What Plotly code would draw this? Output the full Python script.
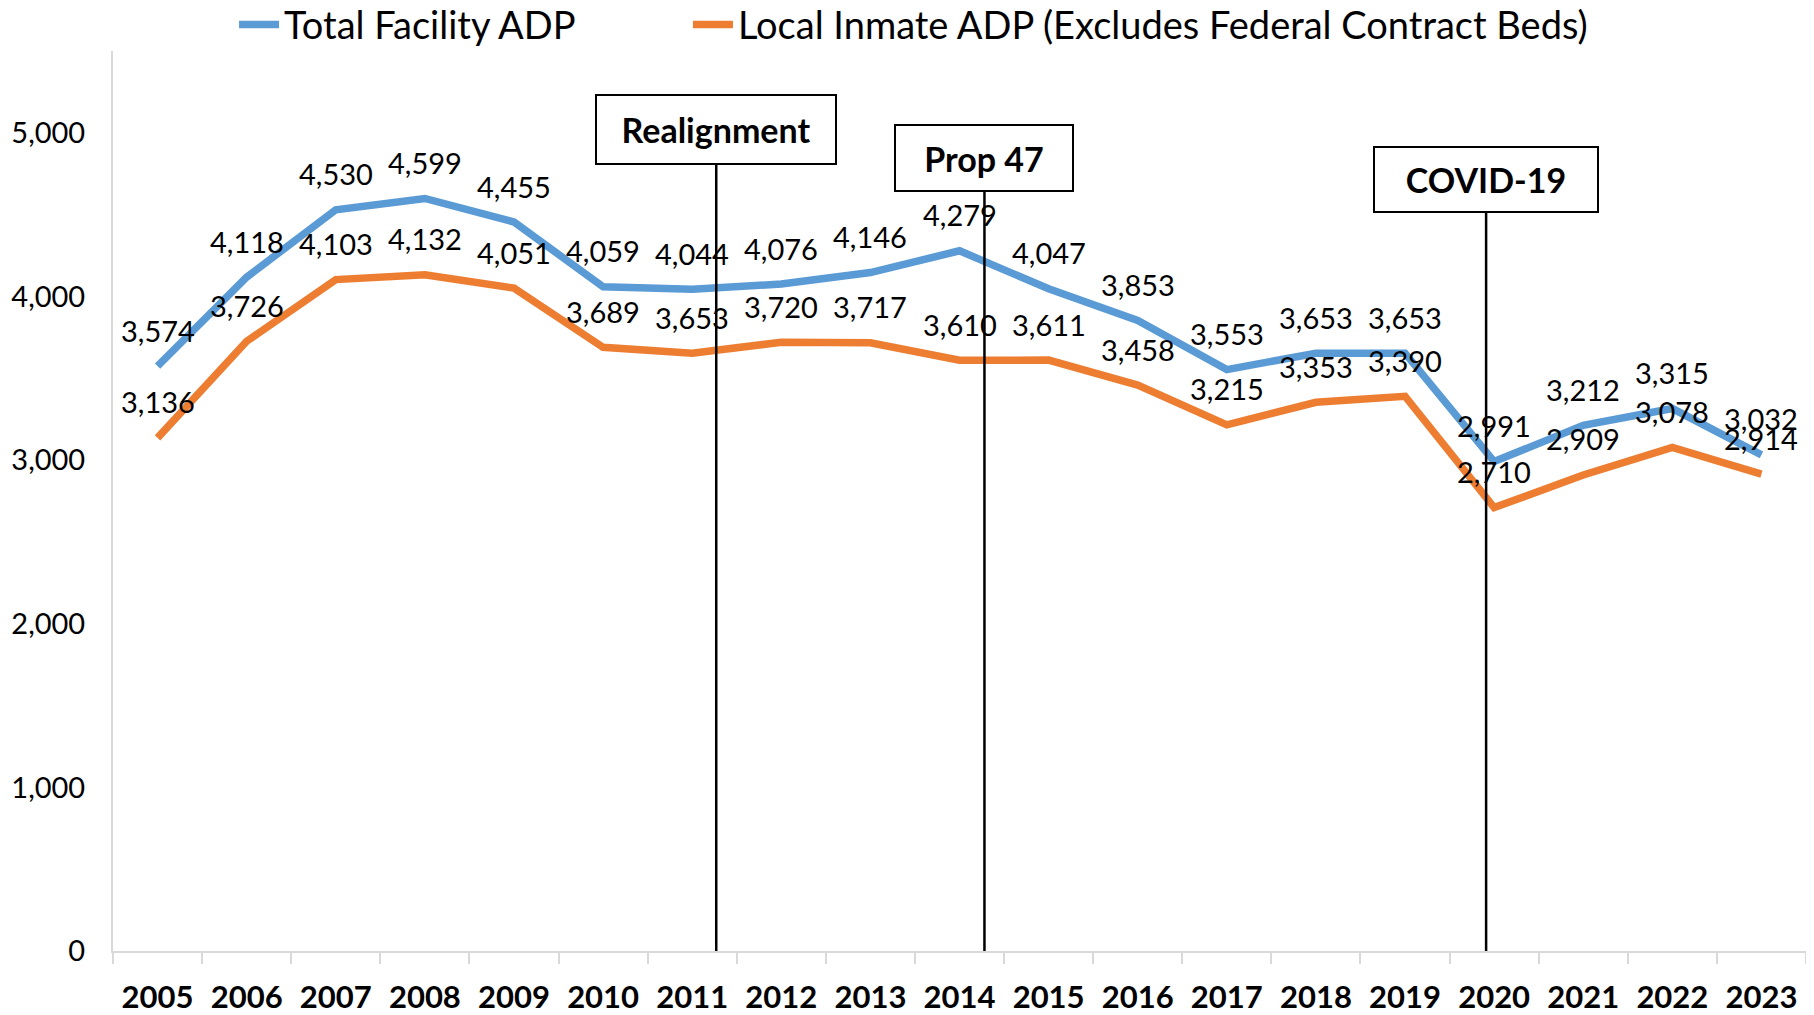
import plotly.graph_objects as go

years = [str(y) for y in range(2005, 2024)]
total_adp = [3574, 4118, 4530, 4599, 4455, 4059, 4044, 4076, 4146, 4279,
             4047, 3853, 3553, 3653, 3653, 2991, 3212, 3315, 3032]
local_adp = [3136, 3726, 4103, 4132, 4051, 3689, 3653, 3720, 3717, 3610,
             3611, 3458, 3215, 3353, 3390, 2710, 2909, 3078, 2914]

series_names = ["Total Facility ADP", "Local Inmate ADP (Excludes Federal Contract Beds)"]
series_colors = ["#5B9BD5", "#ED7D31"]

# Events: label, position (in category index units, fractional), top of marker line (data units)
event_labels = ["Realignment", "Prop 47", "COVID-19"]
event_pos = [6.27, 9.28, 14.91]
event_top = [4804, 4639, 4511]
event_box_w = [238, 176, 222]
event_box_h = [67, 64, 63]

FONT = "Lato"

fig = go.Figure()
legend_ids = ["legend", "legend2"]
for name, vals, col, lg in zip(series_names, [total_adp, local_adp], series_colors, legend_ids):
    fig.add_trace(go.Scatter(
        x=years, y=vals, mode="lines", name=name, legend=lg,
        line=dict(color=col, width=7.5),
    ))

annotations = []
for vals in [total_adp, local_adp]:
    for i, v in enumerate(vals):
        annotations.append(dict(
            x=i, y=v, xref="x", yref="y", text=f"{v:,}", showarrow=False,
            yshift=36, xanchor="center", yanchor="middle",
            font=dict(family=FONT, size=29, color="#000000"),
        ))

shapes = []
for lab, pos, top, bw, bh in zip(event_labels, event_pos, event_top, event_box_w, event_box_h):
    shapes.append(dict(type="line", xref="x", yref="y", x0=pos, x1=pos, y0=0, y1=top,
                       line=dict(color="#000000", width=2.5)))
    annotations.append(dict(
        x=pos, y=top, xref="x", yref="y", text=lab, showarrow=False,
        xanchor="center", yanchor="bottom",
        width=bw, height=bh, borderpad=0,
        bordercolor="#000000", borderwidth=2, bgcolor="#FFFFFF",
        font=dict(family=FONT, size=34, color="#000000", weight="bold"),
    ))

legend_style = dict(orientation="h", xanchor="left", y=0.994, yanchor="bottom",
                    font=dict(family=FONT, size=38, color="#000000"),
                    itemwidth=40, bgcolor="rgba(0,0,0,0)")

fig.update_layout(
    width=1806, height=1007,
    margin=dict(l=105, r=8, t=43, b=64, autoexpand=False),
    paper_bgcolor="#FFFFFF", plot_bgcolor="#FFFFFF",
    showlegend=True,
    legend=dict(x=0.0715, **legend_style),
    legend2=dict(x=0.3396, **legend_style),
    annotations=annotations,
    shapes=shapes,
)
fig.update_xaxes(
    type="category", tickson="boundaries", ticks="outside", ticklen=11,
    tickcolor="#D9D9D9", tickwidth=2, showline=True, linecolor="#D9D9D9", linewidth=2,
    showgrid=False, zeroline=False, range=[-0.5, 18.5],
    tickfont=dict(family=FONT, size=31, color="#000000", weight="bold"),
    ticklabelstandoff=18,
)
fig.update_yaxes(
    range=[0, 5500], tickvals=[0, 1000, 2000, 3000, 4000, 5000], tickformat=",",
    showline=True, linecolor="#D9D9D9", linewidth=2, showgrid=False, zeroline=False,
    ticks="", tickfont=dict(family=FONT, size=29, color="#000000"),
    ticklabelstandoff=20,
)

fig.write_html("out.html")
